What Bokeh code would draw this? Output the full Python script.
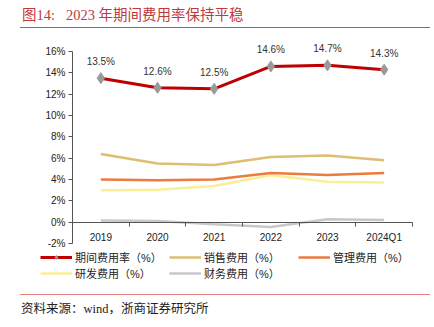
from bokeh.plotting import figure
from bokeh.models import (ColumnDataSource, FixedTicker, Legend, LegendItem, Range1d,
                          CustomJSTickFormatter, LabelSet, Div)
from bokeh.core.properties import value
from bokeh.layouts import column
from bokeh.embed import file_html
from bokeh.resources import INLINE

categories = ["2019", "2020", "2021", "2022", "2023", "2024Q1"]
period_rate = [13.5, 12.6, 12.5, 14.6, 14.7, 14.3]
sales_rate = [6.4, 5.5, 5.35, 6.1, 6.25, 5.8]
admin_rate = [4.0, 3.92, 4.0, 4.62, 4.42, 4.62]
rd_rate = [3.0, 3.05, 3.4, 4.4, 3.78, 3.72]
fin_rate = [0.15, 0.12, -0.2, -0.45, 0.28, 0.2]
y_ticks = [-2, 0, 2, 4, 6, 8, 10, 12, 14, 16]

idx = list(range(len(categories)))
src = ColumnDataSource(dict(
    x=idx, period=period_rate, sales=sales_rate, admin=admin_rate,
    rd=rd_rate, fin=fin_rate,
    lbl=["%.1f%%" % v for v in period_rate],
))

FONT = "Liberation Sans"
CJK = "Noto Sans CJK SC"

# ---- geometry (pixels within the figure) ----
FIG_W, FIG_H = 434, 262
FR_L, FR_R, FR_T, FR_B = 30, 414, 5, 257      # frame edges
AX_L, AX_R = 72, 412                           # where x = -0.5 / 5.5 sit
Y16, YM2 = 23, 215                             # where y = 16 / -2 sit
xs = (AX_R - AX_L) / 6.0
ys = (YM2 - Y16) / 18.0
x_start = -0.5 - (AX_L - FR_L) / xs
x_end = 5.5 + (FR_R - AX_R) / xs
y_end = 16 + (Y16 - FR_T) / ys
y_start = -2 - (FR_B - YM2) / ys

title = Div(text="图14:&nbsp;&nbsp;&nbsp;2023 年期间费用率保持平稳", width=434, height=28,
            styles={"font-family": "'Liberation Serif', 'Noto Sans CJK SC'",
                    "font-size": "14.5px", "color": "#C0393B",
                    "box-sizing": "border-box", "margin": "0", "padding": "5px 0 0 2px",
                    "border-bottom": "1px solid #D24B4B", "width": "410px",
                    "margin-left": "20px", "height": "28px"})

p = figure(width=FIG_W, height=FIG_H, output_backend="svg", toolbar_location=None,
           x_range=Range1d(x_start, x_end), y_range=Range1d(y_start, y_end),
           min_border_left=FR_L, min_border_right=FIG_W - FR_R, min_border_top=FR_T,
           min_border_bottom=FIG_H - FR_B)
p.outline_line_color = None
p.grid.grid_line_color = None

# y axis drawn at x = -0.5
p.yaxis.fixed_location = -0.5
p.yaxis.ticker = FixedTicker(ticks=y_ticks)
p.yaxis.bounds = (-2, 16)
p.yaxis.formatter = CustomJSTickFormatter(code="return tick.toFixed(0) + '%';")
p.yaxis.axis_line_color = "#555555"
p.yaxis.major_tick_line_color = "#555555"
p.yaxis.major_tick_out = 4
p.yaxis.major_tick_in = 0
p.yaxis.minor_tick_line_color = None
p.yaxis.major_label_text_font = FONT
p.yaxis.major_label_text_font_size = "10px"
p.yaxis.major_label_text_color = "#222222"
p.yaxis.major_label_standoff = 3

# x axis drawn at y = 0
p.xaxis.fixed_location = 0
p.xaxis.bounds = (-0.5, 5.5)
p.xaxis.ticker = FixedTicker(ticks=idx, minor_ticks=[i - 0.5 for i in range(len(categories) + 1)])
p.xaxis.major_label_overrides = {i: c for i, c in enumerate(categories)}
p.xaxis.axis_line_color = "#555555"
p.xaxis.major_tick_line_color = None
p.xaxis.minor_tick_line_color = "#555555"
p.xaxis.minor_tick_out = 4
p.xaxis.minor_tick_in = 0
p.xaxis.major_label_text_font = FONT
p.xaxis.major_label_text_font_size = "10px"
p.xaxis.major_label_text_color = "#222222"
p.xaxis.major_label_standoff = 4

r_fin = p.line("x", "fin", source=src, line_color="#C8C8C8", line_width=2.5)
r_rd = p.line("x", "rd", source=src, line_color="#FBEE98", line_width=2.5)
r_admin = p.line("x", "admin", source=src, line_color="#EB7B3E", line_width=2.5)
r_sales = p.line("x", "sales", source=src, line_color="#DDBE72", line_width=2.5)
r_period = p.line("x", "period", source=src, line_color="#C00000", line_width=3)
r_mark = p.scatter("x", "period", source=src, marker="diamond", size=11,
                   fill_color="#9A9A9A", line_color="#9A9A9A")
p.add_layout(LabelSet(x="x", y="period", text="lbl", source=src, text_align="center",
                      text_baseline="bottom", y_offset=11, text_font=value(FONT),
                      text_font_size="10px", text_color="#333333"))

legend = Legend(items=[
    LegendItem(label="期间费用率（%）", renderers=[r_period, r_mark]),
    LegendItem(label="销售费用（%）", renderers=[r_sales]),
    LegendItem(label="管理费用（%）", renderers=[r_admin]),
    LegendItem(label="研发费用（%）", renderers=[r_rd]),
    LegendItem(label="财务费用（%）", renderers=[r_fin]),
], ncols=3, location=(40 - FR_L, FR_B - 253), orientation="horizontal",
    border_line_color=None, background_fill_alpha=0,
    label_text_font="Liberation Sans, Noto Sans CJK SC", label_text_font_size="11px",
    label_text_color="#222222",
    glyph_width=32, glyph_height=10, label_width=94, spacing=0, padding=0,
    margin=0, label_standoff=3, label_height=12)
p.add_layout(legend, "center")

source = Div(text="资料来源：wind，浙商证券研究所", width=434, height=37,
             styles={"font-family": "'Liberation Serif', 'Noto Sans CJK SC'",
                     "font-size": "12.5px", "color": "#222222",
                     "box-sizing": "border-box", "margin-left": "20px", "width": "410px",
                     "border-top": "1px solid #E58080", "margin-top": "4px",
                     "padding": "6px 0 0 1px", "height": "33px"})

layout = column(title, p, source, spacing=0)
open("out.html", "w").write(file_html(layout, INLINE))
